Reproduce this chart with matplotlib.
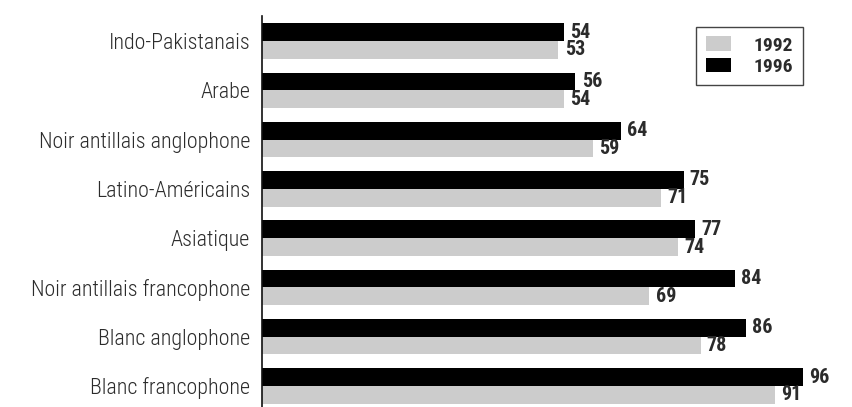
import matplotlib
matplotlib.use("Agg")
import matplotlib.pyplot as plt
from matplotlib import font_manager as fm
from matplotlib.patches import Patch

# police etroite si disponible, sinon Roboto
noms = {f.name for f in fm.fontManager.ttflist}
if "Roboto Condensed" in noms:
    plt.rcParams['font.family'] = ['Roboto Condensed', 'DejaVu Sans']
    t_cat, t_val, t_leg = 15.8, 14.5, 14
elif "Liberation Sans Narrow" in noms:
    plt.rcParams['font.family'] = ['Liberation Sans Narrow', 'DejaVu Sans']
    t_cat, t_val, t_leg = 14, 14, 13.5
else:
    plt.rcParams['font.family'] = ['Roboto', 'DejaVu Sans']
    t_cat, t_val, t_leg = 13, 13, 12.5

# donnees (de haut en bas)
groupes = ["Indo-Pakistanais", "Arabe", "Noir antillais anglophone",
           "Latino-Américains", "Asiatique", "Noir antillais francophone",
           "Blanc anglophone", "Blanc francophone"]
val_1992 = [53, 54, 59, 71, 74, 69, 78, 91]
val_1996 = [54, 56, 64, 75, 77, 84, 86, 96]

gris = "#cccccc"
noir = "#000000"
texte = "#2b2b2b"

fig = plt.figure(figsize=(8.52, 4.07), dpi=100)
ax = fig.add_axes([262/852, 0, (840-262)/852, 1 - 16/407])

h = 0.36
pos = list(range(len(groupes)))
ax.barh([p - h/2 for p in pos], val_1996, height=h, color=noir)
ax.barh([p + h/2 for p in pos], val_1992, height=h, color=gris)

# etiquettes de valeurs
for p, v in zip(pos, val_1996):
    ax.annotate(str(v), (v, p - h/2), xytext=(4.5, 0), textcoords="offset points",
                va="center", ha="left", fontsize=t_val, fontweight="bold", color=texte)
for p, v in zip(pos, val_1992):
    ax.annotate(str(v), (v, p + h/2), xytext=(4.5, 0), textcoords="offset points",
                va="center", ha="left", fontsize=t_val, fontweight="bold", color=texte)

ax.set_xlim(0.9, 102.5)
ax.set_ylim(7.426, -0.507)
ax.set_yticks(pos)
ax.set_yticklabels(groupes, fontsize=t_cat, color=texte, fontweight="light")
ax.tick_params(axis="y", length=0, pad=8.5)
ax.set_xticks([])
for s in ["top", "right", "bottom"]:
    ax.spines[s].set_visible(False)
ax.spines["left"].set_linewidth(1.2)
ax.spines["left"].set_color("#111111")

handles = [Patch(facecolor=gris, edgecolor="none", label="1992"),
           Patch(facecolor=noir, edgecolor="none", label="1996")]
leg = fig.legend(handles=handles, loc="upper left", bbox_to_anchor=(696/852, 1 - 26.7/407),
                 bbox_transform=fig.transFigure, borderaxespad=0, fancybox=False,
                 frameon=True, edgecolor="#444444", framealpha=1,
                 prop={"weight": "bold", "size": t_leg},
                 handlelength=1.3, handleheight=0.8, handletextpad=1.15,
                 labelspacing=0.15, borderpad=0.5)
leg.get_frame().set_linewidth(1.0)
for t in leg.get_texts():
    t.set_color(texte)

fig.savefig("out.png", dpi=100)
